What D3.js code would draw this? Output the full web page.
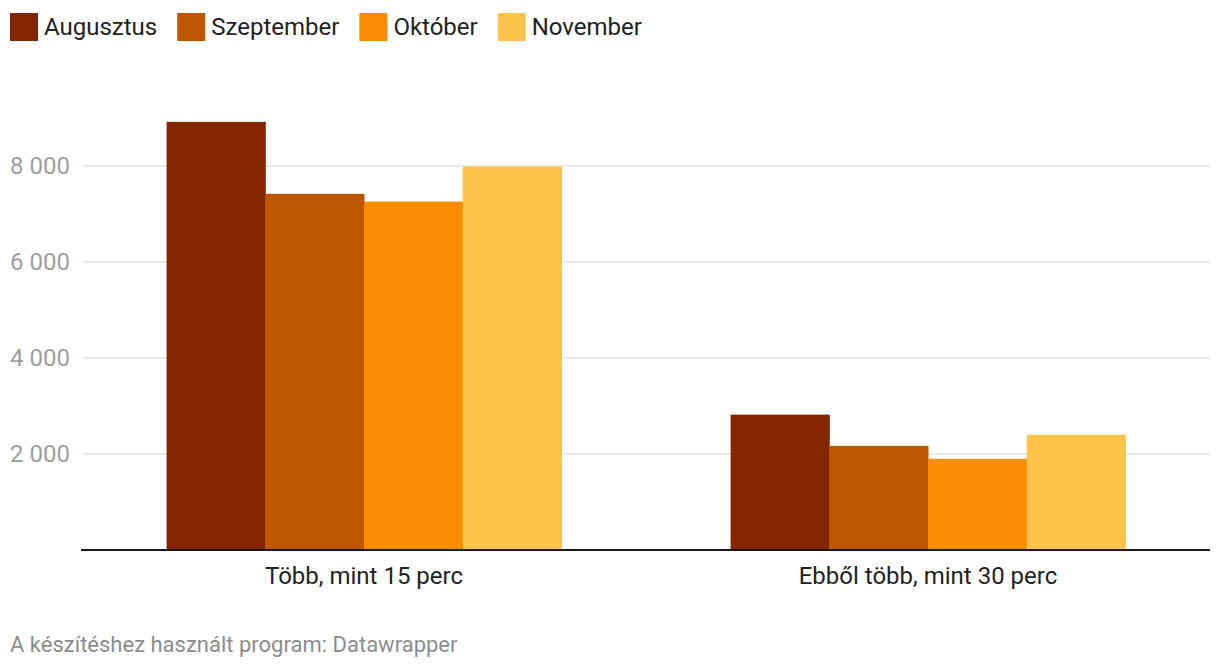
<!DOCTYPE html>
<html>
<head>
<meta charset="utf-8">
<script src="https://cdn.jsdelivr.net/npm/d3@7"></script>
<style>
  body { margin: 0; background: #fff; font-family: Roboto, sans-serif; }
</style>
</head>
<body>
<div id="chart"></div>
<script>
const categories = ["Több, mint 15 perc", "Ebből több, mint 30 perc"];
const months = ["Augusztus", "Szeptember", "Október", "November"];
const augusztus = [8920, 2820];
const szeptember = [7420, 2170];
const oktober = [7260, 1900];
const november = [7990, 2400];
const yTicks = [2000, 4000, 6000, 8000];
const colors = ["#832500", "#bc5700", "#f98c00", "#ffc24b"];

const seriesValues = [augusztus, szeptember, oktober, november];
const data = categories.map((c, i) => ({
    category: c,
    values: months.map((m, j) => ({ month: m, value: seriesValues[j][i] }))
}));

const width = 1220, height = 672;
const margin = { left: 82, right: 10, top: 60, bottom: 122 };

const svg = d3.select("#chart")
    .append("svg")
    .attr("width", width)
    .attr("height", height);

// scales
const x0 = d3.scaleBand()
    .domain(categories)
    .range([margin.left, width - margin.right])
    .padding(0);

const x1 = d3.scaleBand()
    .domain(months)
    .range([x0.bandwidth() * 0.15, x0.bandwidth() * 0.85])
    .padding(0);

const y = d3.scaleLinear()
    .domain([0, 9000])
    .range([height - margin.bottom, height - margin.bottom - 96 * 4.5]);

const color = d3.scaleOrdinal().domain(months).range(colors);

// gridlines
svg.append("g")
    .selectAll("line")
    .data(yTicks)
    .enter()
    .append("line")
    .attr("x1", margin.left)
    .attr("x2", width - margin.right)
    .attr("y1", d => y(d))
    .attr("y2", d => y(d))
    .attr("stroke", "#e5e5e5")
    .attr("stroke-width", 1.5);

// y tick labels
svg.append("g")
    .selectAll("text")
    .data(yTicks)
    .enter()
    .append("text")
    .attr("x", 10)
    .attr("y", d => y(d))
    .attr("dy", "0.35em")
    .attr("fill", "#9e9e9e")
    .style("font-size", "24px")
    .text(d => d3.format(",")(d).replace(",", " "));

// bars
const groups = svg.append("g")
    .selectAll("g")
    .data(data)
    .enter()
    .append("g")
    .attr("transform", d => `translate(${x0(d.category)},0)`);

groups.selectAll("rect")
    .data(d => d.values)
    .enter()
    .append("rect")
    .attr("x", d => x1(d.month))
    .attr("width", x1.bandwidth() + 0.5)
    .attr("y", d => y(d.value))
    .attr("height", d => y(0) - y(d.value))
    .attr("fill", d => color(d.month));

// baseline
svg.append("line")
    .attr("x1", margin.left - 1)
    .attr("x2", width - margin.right)
    .attr("y1", y(0))
    .attr("y2", y(0))
    .attr("stroke", "#1a1a1a")
    .attr("stroke-width", 2);

// x axis labels
svg.append("g")
    .selectAll("text")
    .data(categories)
    .enter()
    .append("text")
    .attr("x", d => x0(d) + x0.bandwidth() / 2)
    .attr("y", y(0) + 34)
    .attr("text-anchor", "middle")
    .attr("fill", "#222")
    .style("font-size", "24px")
    .text(d => d);

// legend
const legend = svg.append("g");
let lx = 10;
months.forEach((m, i) => {
    legend.append("rect")
        .attr("x", lx)
        .attr("y", 13)
        .attr("width", 28)
        .attr("height", 28)
        .attr("fill", colors[i]);
    const t = legend.append("text")
        .attr("x", lx + 34)
        .attr("y", 27)
        .attr("dy", "0.35em")
        .attr("fill", "#222")
        .style("font-size", "24px")
        .text(m);
    lx += 34 + t.node().getComputedTextLength() + 20;
});

// footer
svg.append("text")
    .attr("x", 10)
    .attr("y", 652)
    .attr("fill", "#8c8c8c")
    .style("font-size", "22px")
    .text("A készítéshez használt program: Datawrapper");
</script>
</body>
</html>
